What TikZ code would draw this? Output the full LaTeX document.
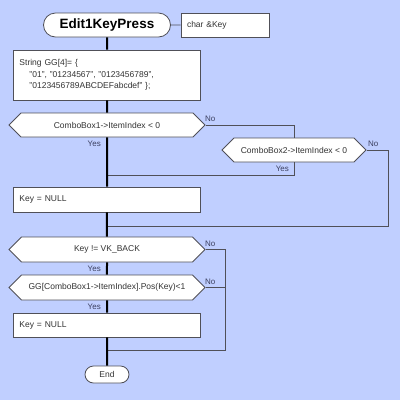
\documentclass[tikz,border=0pt]{standalone}
\usepackage{fontspec}
\setmainfont{Liberation Sans}
\usetikzlibrary{shapes.symbols,shapes.misc}
\definecolor{bg}{HTML}{C0CFFF}
\definecolor{txt}{HTML}{333333}
\definecolor{bord}{HTML}{505058}
\definecolor{lbl}{HTML}{3C4060}
\begin{document}
\begin{tikzpicture}[x=1pt,y=-1pt,
 every node/.style={font=\fontsize{8.5}{11.5}\selectfont, text=txt},
 box/.style={draw=bord, fill=white, line width=0.8pt, minimum width=187, inner xsep=6, inner ysep=2, text width=175, align=left},
 dec/.style={signal, signal to=west and east, signal from=nowhere, draw=bord, fill=white, line width=0.8pt, minimum height=24, inner sep=0, align=center},
 term/.style={rounded rectangle, draw=bord, fill=white, line width=0.8pt, inner sep=0},
 mainline/.style={line width=2pt, black},
 thinline/.style={line width=0.8pt, draw=bord},
 lab/.style={font=\fontsize{8}{9}\selectfont, text=lbl, inner sep=0}
]
\fill[bg] (0,0) rectangle (400,400);
\node[term, minimum width=127, minimum height=24, font=\fontsize{13.5}{15}\selectfont\bfseries, text=black] (title) at (107,25) {Edit1KeyPress};
\node[box, minimum width=88, text width=76, minimum height=24] (param) at (225,25) {char \&Key};
\node[box, minimum height=50] (str) at (107,75) {String GG[4]= \{\\\hspace*{10pt}"01", "01234567", "0123456789",\\\hspace*{10pt}"0123456789ABCDEFabcdef" \};};
\node[dec, minimum width=196] (d1) at (107,125) {ComboBox1->ItemIndex < 0};
\node[dec, minimum width=144] (d2) at (294,150) {ComboBox2->ItemIndex < 0};
\node[box, minimum height=25] (k1) at (107,199.5) {Key = NULL};
\node[dec, minimum width=196, minimum height=25] (d3) at (107,249.5) {Key != VK\_BACK};
\node[dec, minimum width=196, minimum height=25] (d4) at (107,287.5) {GG[ComboBox1->ItemIndex].Pos(Key)<1};
\node[box, minimum height=24] (k2) at (107,325) {Key = NULL};
\node[term, minimum width=44, minimum height=17] (end) at (107,374.5) {End};

\coordinate (m1) at (107,175);
\coordinate (m2) at (107,226);
\coordinate (m3) at (107,350);
\coordinate (c1) at (294,125);
\coordinate (c2) at (294,175);
\coordinate (c3) at (388,150);
\coordinate (c4) at (388,226);
\coordinate (c5) at (225,249.5);
\coordinate (c6) at (225,350);
\coordinate (c7) at (225,287.5);

\draw[thinline] (title) -- (param);
\draw[thinline] (d1.east) -- (c1) -- (d2.north);
\draw[thinline] (d2.south) -- (c2) -- (m1);
\draw[thinline] (d2.east) -- (c3) -- (c4) -- (m2);
\draw[thinline] (d3.east) -- (c5) -- (c6) -- (m3);
\draw[thinline] (d4.east) -- (c7);

\draw[mainline] (title) -- (str);
\draw[mainline] (str) -- (d1);
\draw[mainline] (d1) -- (k1);
\draw[mainline] (k1) -- (d3);
\draw[mainline] (d3) -- (d4);
\draw[mainline] (d4) -- (k2);
\draw[mainline] (k2) -- (end);

\node[lab, anchor=base west] (n1) at (205,121) {No};
\node[lab, anchor=base east] (y1) at (101,146) {Yes};
\node[lab, anchor=base west] (n2) at (368,146) {No};
\node[lab, anchor=base east] (y2) at (289,171) {Yes};
\node[lab, anchor=base west] (n3) at (205,246) {No};
\node[lab, anchor=base east] (y3) at (101,271) {Yes};
\node[lab, anchor=base west] (n4) at (205,284) {No};
\node[lab, anchor=base east] (y4) at (101,309) {Yes};
\end{tikzpicture}
\end{document}
